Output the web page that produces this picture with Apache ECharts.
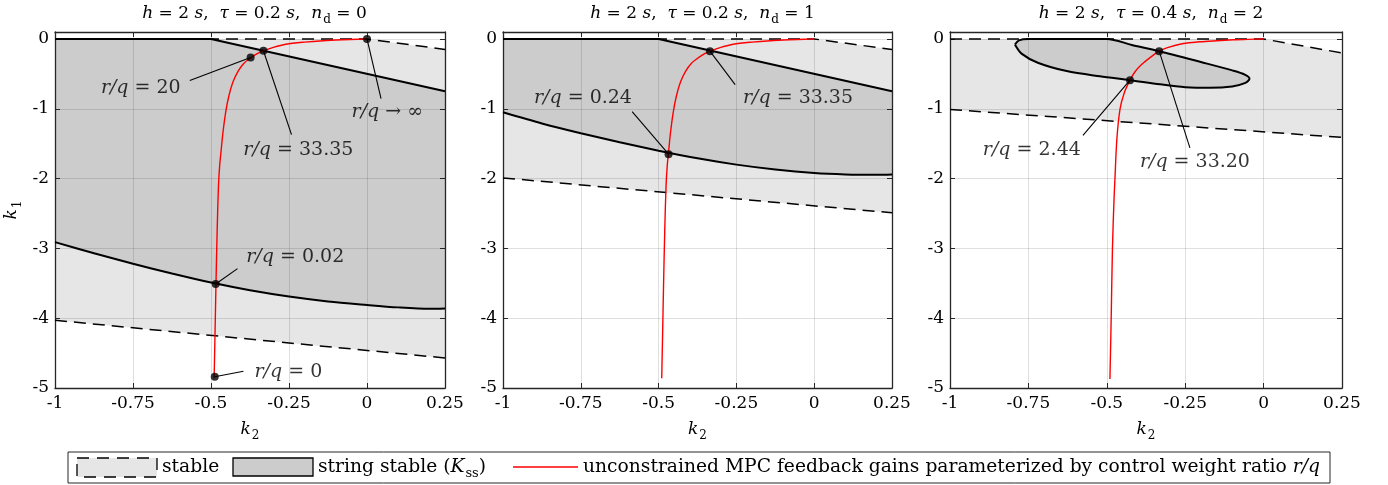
<!DOCTYPE html>
<html>
<head>
<meta charset="utf-8">
<script src="https://cdn.jsdelivr.net/npm/echarts@6/dist/echarts.min.js"></script>
<style>
html, body { margin: 0; padding: 0; background: #fff; }
#chart { width: 1388px; height: 485px; }
</style>
</head>
<body>
<div id="chart"></div>
<script>
// panel parameters (titles)
const panelTau = ['0.2', '0.2', '0.4'];
const panelNd = ['0', '1', '2'];

// stable sets, points are [k2, k1]
const stableUpper1 = [[-1, 0], [0, 0], [0.25, -0.15]];
const stableLower1 = [[-1, -4.03], [0.25, -4.57]];
const stableUpper2 = [[-1, 0], [0, 0], [0.25, -0.15]];
const stableLower2 = [[-1, -1.99], [0.25, -2.49]];
const stableUpper3 = [[-1, 0], [0, 0], [0.25, -0.2]];
const stableLower3 = [[-1, -1.01], [0.25, -1.41]];

// string stable sets
const stringUpper1 = [[-1, 0], [-0.5, 0], [0.25, -0.75]];
const stringLower1 = [[-1, -2.91], [-0.875, -3.07], [-0.75, -3.22], [-0.625, -3.36], [-0.5, -3.49],
  [-0.375, -3.6], [-0.25, -3.69], [-0.125, -3.76], [0, -3.81], [0.1, -3.845], [0.2, -3.865], [0.25, -3.86]];
const stringUpper2 = [[-1, 0], [-0.5, 0], [0.25, -0.75]];
const stringLower2 = [[-1, -1.05], [-0.875, -1.21], [-0.75, -1.35], [-0.625, -1.48], [-0.5, -1.6],
  [-0.375, -1.71], [-0.25, -1.8], [-0.125, -1.87], [0, -1.92], [0.1, -1.94], [0.2, -1.945], [0.25, -1.94]];
const stringEllipse3 = [[-0.793, -0.08], [-0.78, -0.02], [-0.75, 0], [-0.5, 0], [-0.42, -0.085],
  [-0.333, -0.175], [-0.2, -0.33], [-0.1, -0.45], [-0.06, -0.51], [-0.045, -0.57], [-0.058, -0.63],
  [-0.1, -0.68], [-0.171, -0.7], [-0.25, -0.69], [-0.33, -0.65], [-0.426, -0.59], [-0.522, -0.535],
  [-0.628, -0.46], [-0.72, -0.34], [-0.772, -0.21], [-0.793, -0.08]];

// unconstrained MPC gains over r/q
const mpcGains12 = [[-0.49, -4.86], [-0.487, -4.2], [-0.484, -3.5], [-0.48, -2.7], [-0.476, -2.1],
  [-0.472, -1.8], [-0.468, -1.62], [-0.462, -1.35], [-0.453, -1.05], [-0.443, -0.82], [-0.43, -0.62],
  [-0.413, -0.46], [-0.395, -0.35], [-0.373, -0.27], [-0.352, -0.21], [-0.332, -0.17], [-0.3, -0.12],
  [-0.26, -0.075], [-0.2, -0.045], [-0.14, -0.025], [-0.08, -0.012], [-0.03, -0.004], [0, 0]];
const mpcGains3 = [[-0.49, -4.87], [-0.486, -4.0], [-0.482, -3.0], [-0.477, -2.3], [-0.474, -2.0],
  [-0.468, -1.44], [-0.458, -1.01], [-0.445, -0.78], [-0.426, -0.59], [-0.41, -0.47], [-0.39, -0.37],
  [-0.36, -0.26], [-0.333, -0.175], [-0.309, -0.127], [-0.256, -0.065], [-0.203, -0.04], [-0.15, -0.025],
  [-0.097, -0.012], [-0.05, -0.005], [0, 0]];

// marked gains: label, point, leader end, text anchor
const notes1 = [
  { text: '{i|r/q} = 20', pt: [-0.373, -0.265], end: [-0.568, -0.595], at: [-0.725, -0.7] },
  { text: '{i|r/q} = 33.35', pt: [-0.332, -0.168], end: [-0.242, -1.37], at: [-0.22, -1.59] },
  { text: '{i|r/q} → ∞', pt: [0, 0], end: [0.045, -0.854], at: [0.065, -1.05] },
  { text: '{i|r/q} = 0.02', pt: [-0.485, -3.51], end: [-0.415, -3.29], at: [-0.23, -3.12] },
  { text: '{i|r/q} = 0', pt: [-0.488, -4.84], end: [-0.396, -4.76], at: [-0.252, -4.77] }
];
const notes2 = [
  { text: '{i|r/q} = 0.24', pt: [-0.468, -1.65], end: [-0.585, -1.04], at: [-0.743, -0.84] },
  { text: '{i|r/q} = 33.35', pt: [-0.335, -0.175], end: [-0.254, -0.653], at: [-0.052, -0.84] }
];
const notes3 = [
  { text: '{i|r/q} = 2.44', pt: [-0.426, -0.59], end: [-0.576, -1.38], at: [-0.739, -1.59] },
  { text: '{i|r/q} = 33.20', pt: [-0.333, -0.175], end: [-0.235, -1.56], at: [-0.219, -1.77] }
];

const gridLeft = [54, 503, 950];
const gridWidth = [391, 389, 392];
const FONT = 'DejaVu Serif';
const INK = '#262626';

const chart = echarts.init(document.getElementById('chart'));

// rich styles for math-ish text: m = upright, i = italic, s = subscript
function mathRich(size) {
  return {
    m: { fontFamily: FONT, fontSize: size, lineHeight: size + 4, verticalAlign: 'top', color: '#000' },
    i: { fontFamily: FONT, fontSize: size, lineHeight: size + 4, verticalAlign: 'top', fontStyle: 'italic', color: '#000' },
    s: { fontFamily: FONT, fontSize: Math.round(size * 0.7), lineHeight: Math.round(size * 0.7),
         verticalAlign: 'bottom', padding: [size - 6, 0, 0, 1], color: '#000' }
  };
}

function areaSeries(idx, pts, color, z) {
  return {
    type: 'custom', xAxisIndex: idx * 2, yAxisIndex: idx * 2, z: z, silent: true,
    data: pts,
    renderItem: function (params, api) {
      if (params.dataIndex !== 0) return null;
      return {
        type: 'polygon',
        shape: { points: pts.map(p => api.coord(p)), smooth: 0 },
        style: { fill: color }
      };
    }
  };
}

function lineSeries(idx, pts, style, z, smooth) {
  return {
    type: 'line', xAxisIndex: idx * 2, yAxisIndex: idx * 2, data: pts,
    symbol: 'none', smooth: smooth || false, silent: true, z: z, lineStyle: style
  };
}

const dashed = { color: '#000', width: 1.5, type: [12, 7] };
const solid = { color: '#000', width: 2 };
const red = { color: '#ff0000', width: 1.4 };

function noteSeries(idx, notes) {
  const out = [];
  notes.forEach(n => {
    out.push(lineSeries(idx, [n.pt, n.end], { color: '#000', width: 1.1 }, 6));
  });
  out.push({
    type: 'scatter', xAxisIndex: idx * 2, yAxisIndex: idx * 2, z: 8, silent: true,
    symbolSize: 8, itemStyle: { color: '#000' },
    data: notes.map(n => n.pt)
  });
  out.push({
    type: 'scatter', xAxisIndex: idx * 2, yAxisIndex: idx * 2, z: 9, silent: true,
    symbolSize: 1, itemStyle: { color: 'rgba(0,0,0,0)' },
    data: notes.map(n => ({ value: n.at, label: { formatter: n.text } })),
    label: {
      show: true, position: 'inside', fontFamily: FONT, fontSize: 19, color: '#000',
      rich: { i: { fontStyle: 'italic', fontFamily: FONT, fontSize: 19, color: '#000' } }
    }
  });
  return out;
}

const grids = [], xAxes = [], yAxes = [], titles = [];
for (let i = 0; i < 3; i++) {
  grids.push({ left: gridLeft[i], top: 32, width: gridWidth[i], height: 356 });
  const common = {
    gridIndex: i, type: 'value',
    axisLine: { show: true, onZero: false, lineStyle: { color: INK, width: 1.3 } },
    axisTick: { show: true, inside: true, length: 5, lineStyle: { color: INK, width: 1 } }
  };
  xAxes.push(Object.assign({}, common, {
    position: 'bottom', min: -1, max: 0.25, interval: 0.25,
    axisLabel: { fontFamily: FONT, fontSize: 17, color: '#000', margin: 7 },
    splitLine: { show: true, lineStyle: { color: 'rgba(38,38,38,0.15)', width: 1 } },
    name: '{i|k}{s|2}', nameLocation: 'middle', nameGap: 33,
    nameTextStyle: { fontFamily: FONT, fontSize: 17, color: '#000', rich: mathRich(17) }
  }));
  xAxes.push(Object.assign({}, common, {
    position: 'top', min: -1, max: 0.25, interval: 0.25,
    axisLabel: { show: false }, splitLine: { show: false }
  }));
  yAxes.push(Object.assign({}, common, {
    position: 'left', min: -5, max: 0.1, interval: 1,
    axisLabel: {
      fontFamily: FONT, fontSize: 17, color: '#000', margin: 6, showMaxLabel: false,
      formatter: v => (Math.abs(v - Math.round(v)) < 1e-6 ? String(Math.round(v)) : '')
    },
    splitLine: { show: true, lineStyle: { color: 'rgba(38,38,38,0.15)', width: 1 } },
    name: i === 0 ? '{i|k}{s|1}' : '', nameLocation: 'middle', nameGap: 31, nameRotate: 90,
    nameTextStyle: { fontFamily: FONT, fontSize: 17, color: '#000', rich: mathRich(17) }
  }));
  yAxes.push(Object.assign({}, common, {
    position: 'right', min: -5, max: 0.1, interval: 1,
    axisLabel: { show: false }, splitLine: { show: false }
  }));
  titles.push({
    text: '{i|h}{m| = 2 }{i|s}{m|,  }{i|τ}{m| = ' + panelTau[i] + ' }{i|s}{m|,  }{i|n}{s|d}{m| = ' + panelNd[i] + '}',
    left: gridLeft[i] + gridWidth[i] / 2, top: 0, textAlign: 'center',
    textStyle: { fontFamily: FONT, fontSize: 17, fontWeight: 'normal', color: '#000', rich: mathRich(17) }
  });
}

const series = [
  // panel 1
  areaSeries(0, stableUpper1.concat(stableLower1.slice().reverse()), '#e6e6e6', -2),
  areaSeries(0, stringUpper1.concat(stringLower1.slice().reverse()), '#cccccc', -1),
  lineSeries(0, stableUpper1, dashed, 3), lineSeries(0, stableLower1, dashed, 3),
  lineSeries(0, stringUpper1, solid, 4), lineSeries(0, stringLower1, solid, 4, 0.3),
  lineSeries(0, mpcGains12, red, 5, 0.3),
  // panel 2
  areaSeries(1, stableUpper2.concat(stableLower2.slice().reverse()), '#e6e6e6', -2),
  areaSeries(1, stringUpper2.concat(stringLower2.slice().reverse()), '#cccccc', -1),
  lineSeries(1, stableUpper2, dashed, 3), lineSeries(1, stableLower2, dashed, 3),
  lineSeries(1, stringUpper2, solid, 4), lineSeries(1, stringLower2, solid, 4, 0.3),
  lineSeries(1, mpcGains12, red, 5, 0.3),
  // panel 3
  areaSeries(2, stableUpper3.concat(stableLower3.slice().reverse()), '#e6e6e6', -2),
  areaSeries(2, stringEllipse3, '#cccccc', -1),
  lineSeries(2, stableUpper3, dashed, 3), lineSeries(2, stableLower3, dashed, 3),
  lineSeries(2, stringEllipse3, solid, 4, 0.3),
  lineSeries(2, mpcGains3, red, 5, 0.3)
].concat(noteSeries(0, notes1), noteSeries(1, notes2), noteSeries(2, notes3));

const legendFont = { fontFamily: FONT, fontSize: 18.7, fill: '#000' };
const legendRich = mathRich(18.7);
chart.setOption({
  animation: false,
  title: titles,
  grid: grids,
  xAxis: xAxes,
  yAxis: yAxes,
  series: series,
  graphic: [
    { type: 'rect', shape: { x: 68, y: 452, width: 1262, height: 31 },
      style: { fill: '#fff', stroke: INK, lineWidth: 1 } },
    { type: 'rect', shape: { x: 77, y: 458, width: 80, height: 19 },
      style: { fill: '#e6e6e6', stroke: '#000', lineWidth: 1.3, lineDash: [12, 8] } },
    { type: 'text', x: 162, y: 467,
      style: Object.assign({ text: 'stable', verticalAlign: 'middle' }, legendFont) },
    { type: 'rect', shape: { x: 233, y: 458, width: 80, height: 18 },
      style: { fill: '#cccccc', stroke: '#000', lineWidth: 1.3 } },
    { type: 'text', x: 318, y: 469,
      style: Object.assign({ text: '{m|string stable (}{i|K}{s|ss}{m|)}', verticalAlign: 'middle',
        rich: legendRich }, legendFont) },
    { type: 'line', shape: { x1: 513, y1: 467, x2: 578, y2: 467 },
      style: { stroke: '#ff0000', lineWidth: 1.4 } },
    { type: 'text', x: 583, y: 467,
      style: Object.assign({ text: 'unconstrained MPC feedback gains parameterized by control weight ratio {i|r/q}',
        verticalAlign: 'middle',
        rich: { i: { fontStyle: 'italic', fontFamily: FONT, fontSize: 18.7 } } }, legendFont) }
  ]
});
</script>
</body>
</html>
